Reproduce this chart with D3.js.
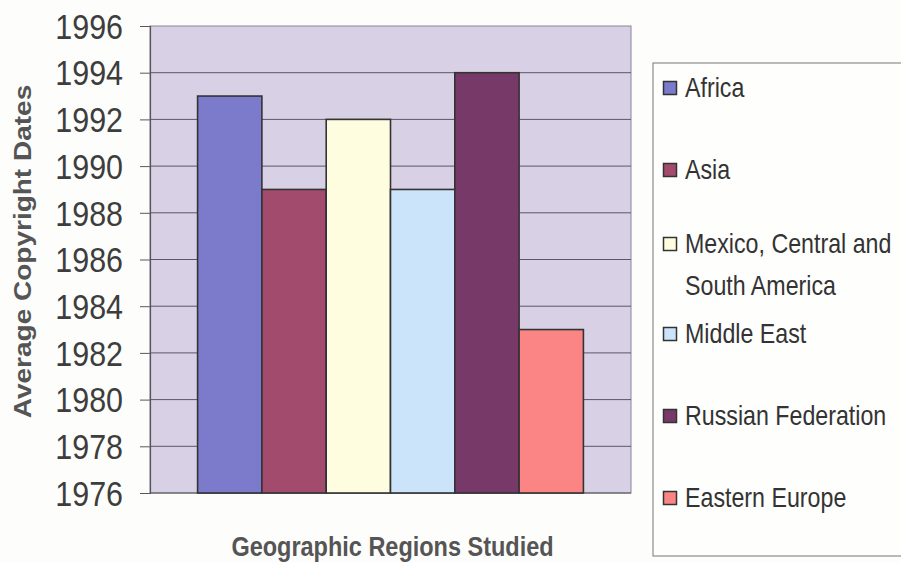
<!DOCTYPE html>
<html>
<head>
<meta charset="utf-8">
<script src="https://cdn.jsdelivr.net/npm/d3@7"></script>
<style>
  html, body { margin: 0; padding: 0; background: #fdfdfb; }
  svg { display: block; }
</style>
</head>
<body>
<div id="chart"></div>
<script>
// Average copyright dates by geographic region
const regions = ["Africa", "Asia", "Mexico, Central and South America", "Middle East", "Russian Federation", "Eastern Europe"];
const legendLines = [["Africa"], ["Asia"], ["Mexico, Central and", "South America"], ["Middle East"], ["Russian Federation"], ["Eastern Europe"]];
const avgDates = [1993, 1989, 1992, 1989, 1994, 1983];
const yTicks = [1976, 1978, 1980, 1982, 1984, 1986, 1988, 1990, 1992, 1994, 1996];
const colors = ["#7c7acb", "#a34b6c", "#fffde0", "#cce4fa", "#773a68", "#fb8585"];

const W = 901, H = 563;
const plot = { left: 150, right: 631, top: 26, bottom: 493 };
const FONT = "'Liberation Sans', Arial, sans-serif";
const SQUEEZE = 0.87; // horizontally narrowed lettering

const svg = d3.select("#chart").append("svg")
  .attr("width", W).attr("height", H);

const y = d3.scaleLinear().domain([1976, 1996]).range([plot.bottom, plot.top]);
const x = d3.scaleBand().domain(regions)
  .range([plot.left, plot.right])
  .paddingInner(0).paddingOuter(0.74);

// plot background
svg.append("rect")
  .attr("x", plot.left).attr("y", plot.top)
  .attr("width", plot.right - plot.left).attr("height", plot.bottom - plot.top)
  .attr("fill", "#d8d1e5").attr("stroke", "#8a8494").attr("stroke-width", 1);

// gridlines
svg.append("g").selectAll("line").data(yTicks.filter(t => t > 1976 && t < 1996)).join("line")
  .attr("x1", plot.left).attr("x2", plot.right)
  .attr("y1", d => y(d)).attr("y2", d => y(d))
  .attr("stroke", "#5e5466").attr("stroke-width", 1);

// y axis
const yAxis = svg.append("g")
  .attr("transform", `translate(${plot.left},0)`)
  .call(d3.axisLeft(y).tickValues(yTicks).tickFormat(d3.format("d")).tickSize(10).tickPadding(17));
yAxis.select(".domain").attr("stroke", "#555").attr("stroke-width", 1.2);
yAxis.selectAll(".tick line").attr("stroke", "#5e5466");
yAxis.selectAll(".tick text")
  .attr("x", 0)
  .attr("dy", "0.35em")
  .attr("transform", `translate(-27,0) scale(${SQUEEZE},1)`)
  .attr("fill", "#3d3d3d")
  .style("font-family", FONT)
  .style("font-size", "35px");

// x axis baseline
svg.append("line")
  .attr("x1", plot.left).attr("x2", plot.right)
  .attr("y1", plot.bottom).attr("y2", plot.bottom)
  .attr("stroke", "#555").attr("stroke-width", 1.2);

// bars
svg.append("g").selectAll("rect").data(regions).join("rect")
  .attr("x", d => x(d))
  .attr("y", (d, i) => y(avgDates[i]))
  .attr("width", x.bandwidth())
  .attr("height", (d, i) => y(1976) - y(avgDates[i]))
  .attr("fill", (d, i) => colors[i])
  .attr("stroke", "#333")
  .attr("stroke-width", 1.6);

// axis titles
svg.append("text")
  .attr("transform", `translate(31,${(plot.top + plot.bottom) / 2 - 8}) scale(${SQUEEZE},1) rotate(-90)`)
  .attr("text-anchor", "middle")
  .attr("fill", "#555")
  .style("font-family", FONT)
  .style("font-weight", "bold")
  .style("font-size", "28px")
  .text("Average Copyright Dates");

svg.append("text")
  .attr("transform", `translate(${(plot.left + plot.right) / 2 + 2},556) scale(${SQUEEZE},1)`)
  .attr("text-anchor", "middle")
  .attr("fill", "#555")
  .style("font-family", FONT)
  .style("font-weight", "bold")
  .style("font-size", "27px")
  .text("Geographic Regions Studied");

// legend
const legend = svg.append("g");
legend.append("rect")
  .attr("x", 653).attr("y", 63)
  .attr("width", 260).attr("height", 493)
  .attr("fill", "#fefefd").attr("stroke", "#777").attr("stroke-width", 1);

const ly = d3.scalePoint().domain(regions).range([87, 497]);
const items = legend.selectAll("g.item").data(regions).join("g").attr("class", "item")
  .attr("transform", (d, i) => `translate(0,${ly(d) - (legendLines[i].length > 1 ? 8 : 0)})`);
items.append("rect")
  .attr("x", 663.5).attr("y", -5.5)
  .attr("width", 13).attr("height", 13)
  .attr("fill", (d, i) => colors[i])
  .attr("stroke", "#333").attr("stroke-width", 1.5);
items.append("text")
  .attr("transform", `translate(685,0) scale(0.86,1)`)
  .attr("fill", "#333")
  .style("font-family", FONT)
  .style("font-size", "27px")
  .selectAll("tspan").data((d, i) => legendLines[i]).join("tspan")
  .attr("x", 0)
  .attr("y", (d, j) => 10 + j * 42)
  .text(d => d);
</script>
</body>
</html>
